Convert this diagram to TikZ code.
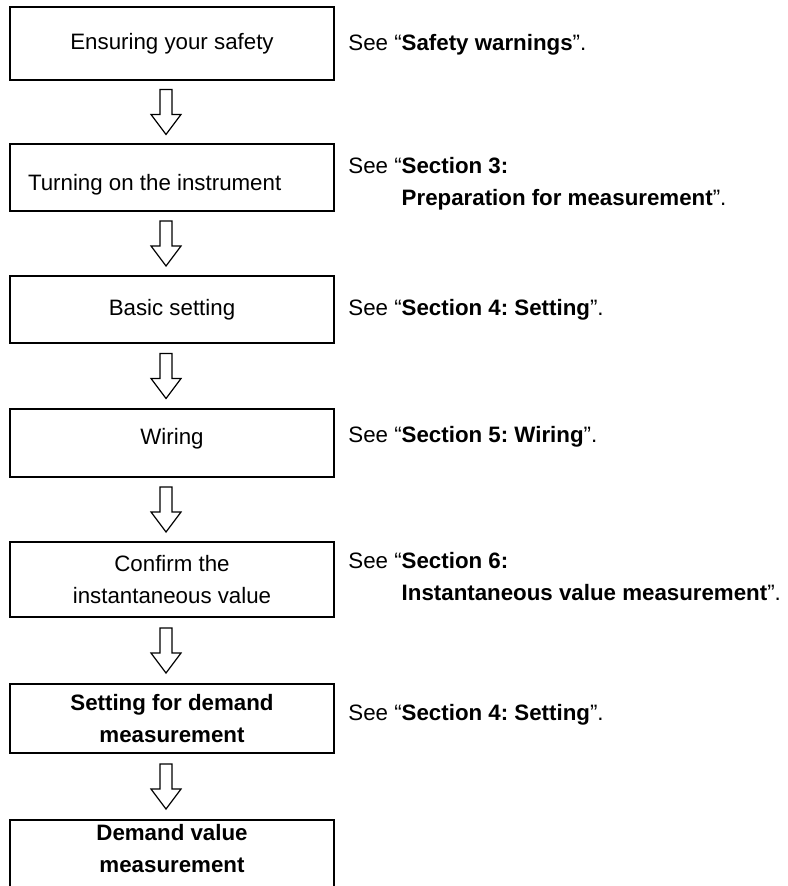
\documentclass[tikz,border=0pt]{standalone}
\usepackage{fontspec}
\setmainfont{Liberation Sans}
\usetikzlibrary{calc}
\frenchspacing

\newcommand\nudge[2]{\raisebox{#1}[\height][\depth]{#2}}

\tikzset{
  stepbox/.style={draw, line width=1pt, minimum width=162pt, align=center,
    inner sep=2pt, font=\fontsize{11.15}{16}\selectfont},
  note/.style={anchor=west, inner sep=0pt, align=left,
    font=\fontsize{11.15}{16}\selectfont},
  hollow/.style={draw, line width=0.6pt, line join=miter, fill=white}
}

\begin{document}
\begin{tikzpicture}[x=0.5pt,y=-0.5pt]
\clip (0,0) rectangle (787,886);

\node[stepbox, minimum height=36.5pt] (b1) at (172,43.5) {Ensuring your safety};
\node[stepbox, minimum height=33.5pt] (b2) at (172,177.5)
  {\nudge{-3.5pt}{\makebox[144pt][l]{Turning on the instrument}}};
\node[stepbox, minimum height=33.5pt] (b3) at (172,309.5) {Basic setting};
\node[stepbox, minimum height=34pt] (b4) at (172,443) {\nudge{2pt}{Wiring}};
\node[stepbox, minimum height=37.5pt] (b5) at (172,579.5) {Confirm the\\instantaneous value};
\node[stepbox, minimum height=34.5pt] (b6) at (172,718.5) {\textbf{Setting for demand}\\\textbf{measurement}};
\node[stepbox, minimum height=38pt, anchor=north] (b7) at (172,819)
  {\nudge{4pt}{\begin{tabular}{@{}c@{}}\textbf{Demand value}\\\textbf{measurement}\end{tabular}}};

\foreach \a/\b in {b1/b2,b2/b3,b3/b4,b4/b5,b5/b6,b6/b7} {
  \path ($(\a.south)!0.5!(\b.north)$) ++(-6,0) coordinate (m);
  \draw[hollow] (m) ++(-6,-22.5) -- ++(12,0) -- ++(0,25) -- ++(9,0) -- ++(-15,20)
    -- ++(-15,-20) -- ++(9,0) -- cycle;
}

\node[note] (n1) at (348,45) {See “\textbf{Safety warnings}”.};
\node[note] (n2) at (348,184) {See “\textbf{Section 3:}\\\phantom{See “}\textbf{Preparation for measurement}”.};
\node[note] (n3) at (348,310) {See “\textbf{Section 4: Setting}”.};
\node[note] (n4) at (348,437) {See “\textbf{Section 5: Wiring}”.};
\node[note] (n5) at (348,577) {See “\textbf{Section 6:}\\\phantom{See “}\textbf{Instantaneous value measurement}”.};
\node[note] (n6) at (348,715) {See “\textbf{Section 4: Setting}”.};
\end{tikzpicture}
\end{document}
